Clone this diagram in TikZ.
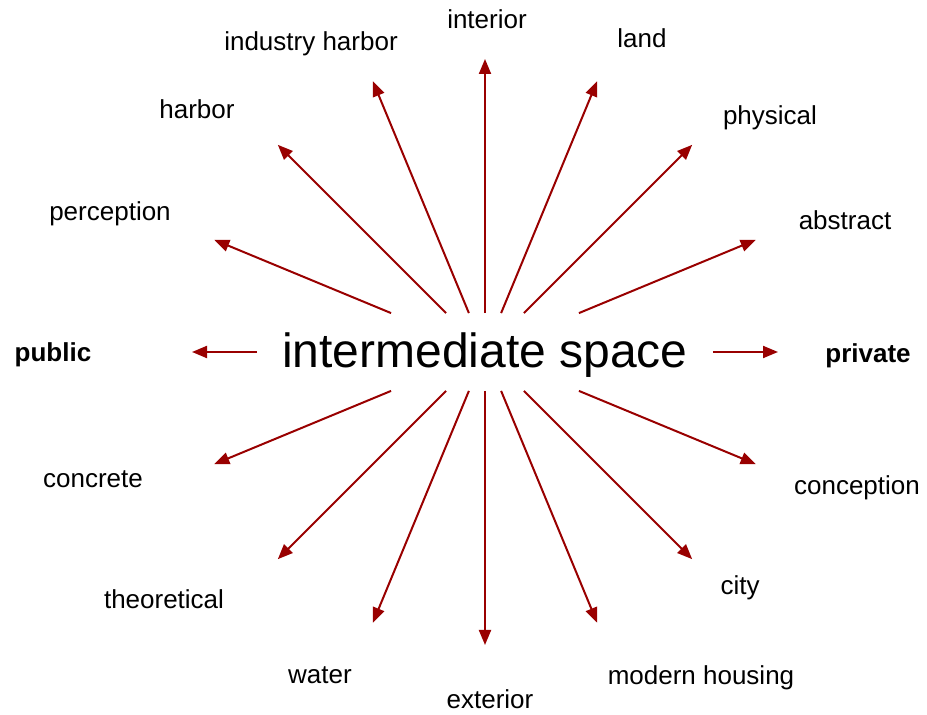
\documentclass[tikz,border=0pt]{standalone}
\usepackage{fontspec}
\setmainfont{Liberation Sans}
\usepackage{tikz}
\usetikzlibrary{arrows.meta}
\definecolor{rayred}{RGB}{153,0,0}

\begin{document}
\begin{tikzpicture}[x=0.5pt,y=-0.5pt,>={Triangle[length=7.5pt,width=6pt]}, every node/.style={font=\fontsize{13}{15}\selectfont}]
\tikzstyle{lbl}=[anchor=base, inner sep=0pt]
\tikzstyle{ray}=[->, draw=rayred, line width=1pt]
\useasboundingbox (0,0) rectangle (927,715);
\node[font=\fontsize{24}{28}\selectfont, anchor=base, text height=23.25pt, text depth=7.25pt, inner ysep=4pt, minimum width=227.5pt] (mid) at (485,368) {intermediate space};
\foreach \a [count=\i] in {0,22.5,...,337.5}
  \coordinate (tip\i) at ([shift={(\a:293)}]mid.center);
\foreach \i in {1,...,16} \draw[ray] (mid) -- (tip\i);
% labels round the centre
\node[lbl] (int) at (487,29) {interior};
\node[lbl] (land) at (642,48) {land};
\node[lbl] (phys) at (770,125) {physical};
\node[lbl] (abs) at (845,230) {abstract};
\node[lbl,font=\fontsize{13}{15}\selectfont\bfseries] (priv) at (868,363) {private};
\node[lbl] (concep) at (857,495) {conception};
\node[lbl] (city) at (740,595) {city};
\node[lbl] (house) at (701,685) {modern housing};
\node[lbl] (ext) at (490,709) {exterior};
\node[lbl] (water) at (320,684) {water};
\node[lbl] (theo) at (164,609) {theoretical};
\node[lbl] (concr) at (93,488) {concrete};
\node[lbl,font=\fontsize{13}{15}\selectfont\bfseries] (pub) at (53,362) {public};
\node[lbl] (perc) at (110,221) {perception};
\node[lbl] (harb) at (197,119) {harbor};
\node[lbl] (ind) at (311,51) {industry harbor};
\end{tikzpicture}
\end{document}
